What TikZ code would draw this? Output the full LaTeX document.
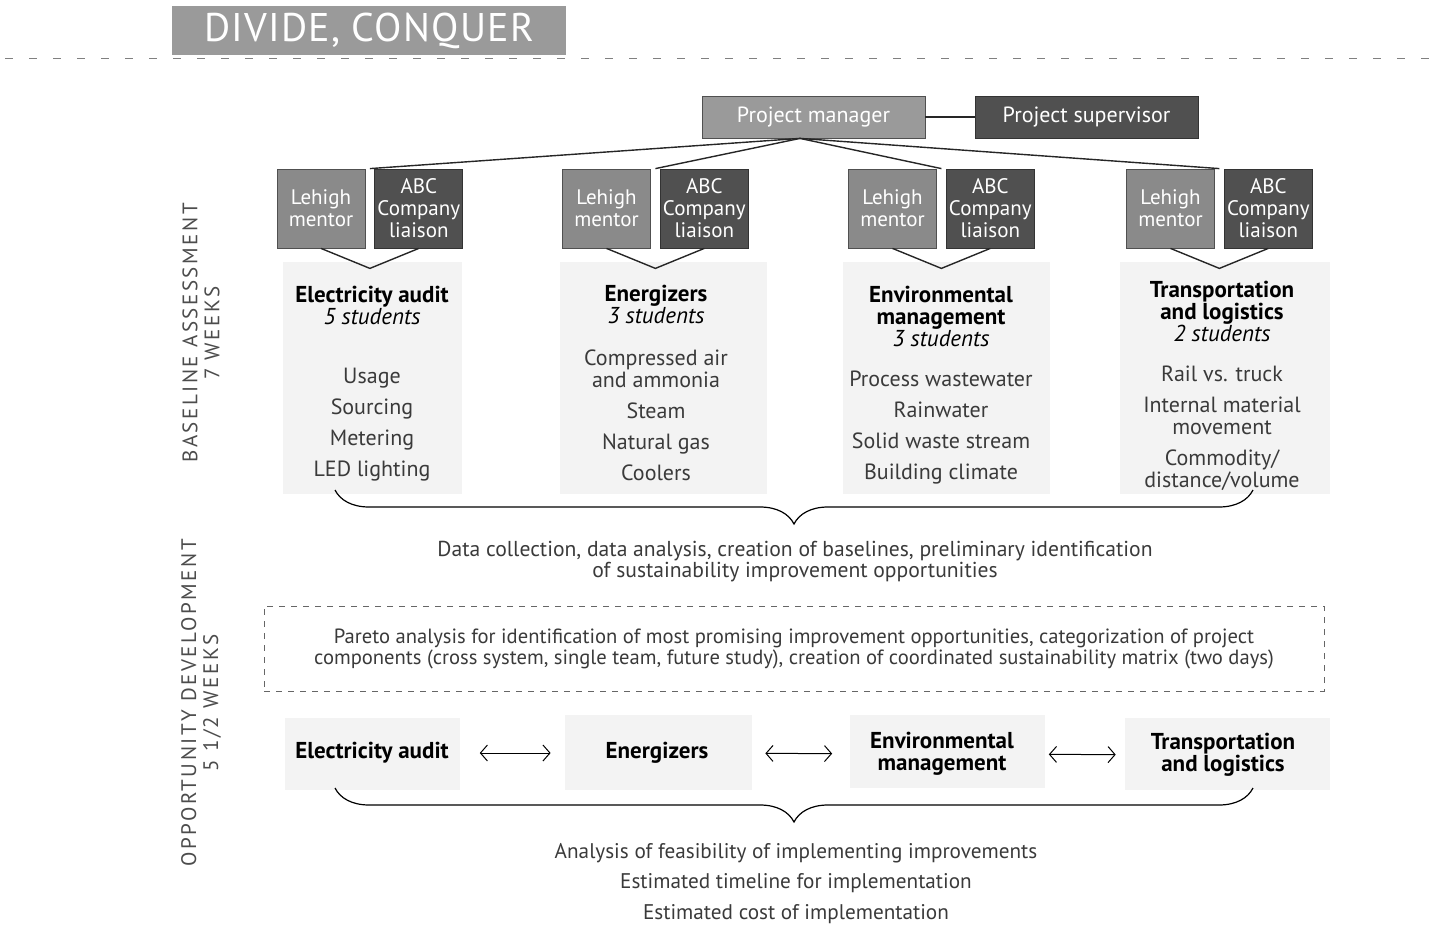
\documentclass[tikz,border=0pt]{standalone}
\usepackage{fontspec}
\setmainfont{PT Sans}
\usetikzlibrary{arrows.meta,positioning,calc,decorations.pathreplacing}
\tikzset{>=latex}
\definecolor{pmgrey}{HTML}{9A9A9A}
\definecolor{midgrey}{HTML}{8A8A8A}
\definecolor{darkgrey}{HTML}{505050}
\definecolor{areagrey}{HTML}{F3F3F3}
\definecolor{textgrey}{HTML}{3A3A3A}
\tikzset{
  lehighbox/.style={fill=midgrey, draw=darkgrey, text=white, minimum width=44pt,
    minimum height=39.5pt, inner sep=1pt, align=center,
    font=\fontsize{10.5}{11}\selectfont},
  abcbox/.style={lehighbox, fill=darkgrey, draw=black!80},
  topbox/.style={fill=pmgrey, draw=darkgrey, text=white, minimum width=111.5pt,
    minimum height=21pt, font=\fontsize{11}{11}\selectfont},
  teamhead/.style={align=center, font=\bfseries\fontsize{11.5}{11}\selectfont},
  teamitems/.style={align=center, text=textgrey, font=\fontsize{11}{11}\selectfont},
  phase/.style={rotate=90, align=center, text=black!70,
    font=\fontsize{10.5}{11}\selectfont\addfontfeature{LetterSpace=12}},
  remark/.style={align=center, text=textgrey, font=\fontsize{10.8}{10.5}\selectfont},
  link/.style={line width=0.7pt, draw=black!85},
  curly/.style={decorate, decoration={brace, mirror, amplitude=17pt}, line width=0.6pt},
  swap/.style={{Straight Barb[length=3.5pt,width=8pt]}-{Straight Barb[length=3.5pt,width=8pt]}, line width=0.5pt}
}
\begin{document}
\begin{tikzpicture}[x=0.5pt,y=-0.5pt]
  \useasboundingbox (0,0) rectangle (1437,926);

  % title bar
  \draw [gray, line width=0.5pt, dash pattern=on 4pt off 8pt] (5,58) -- (1437,58);
  \node [fill=pmgrey, minimum width=197pt, minimum height=24.5pt, text=white,
    font=\fontsize{20}{20}\selectfont\addfontfeature{LetterSpace=3}] (title) at (369,30.5) {DIVIDE, CONQUER};

  % phases
  \node [phase] (base) at (201,333) {BASELINE ASSESSMENT\\7 WEEKS};
  \node [phase] (opp) at (201,703) {OPPORTUNITY DEVELOPMENT\\5 1/2 WEEKS};

  % managers
  \node [topbox] (pm) at (813.5,117) {Project manager};
  \node [topbox, fill=darkgrey, draw=black!80] (ps) at (1086.5,117) {Project supervisor};
  \draw [link] (pm) -- (ps);

  % team areas
  \fill [areagrey] (283,262) rectangle (462,494);
  \fill [areagrey] (560,262) rectangle (767,494);
  \fill [areagrey] (843,262) rectangle (1050,494);
  \fill [areagrey] (1120,262) rectangle (1330,494);

  \fill [areagrey] (285,718) rectangle (460,790);
  \fill [areagrey] (565,715) rectangle (752,790);
  \fill [areagrey] (850,715) rectangle (1045,788);
  \fill [areagrey] (1125,718) rectangle (1330,790);

  % mentor and liaison pairs
  \foreach \i/\x in {1/321,2/606.5,3/892.5,4/1170.5} {
    \node [lehighbox] (l\i) at (\x,208.5) {Lehigh\\mentor};
    \node [abcbox, right=4.5pt of l\i] (a\i) {ABC\\Company\\liaison};
    \coordinate (g\i) at ($(l\i.north east)!0.5!(a\i.north west)$);
    \coordinate (v\i) at ($(l\i.south east)!0.5!(a\i.south west)+(0,20)$);
    \draw [link] ([xshift=-6.75pt]pm.south) -- (g\i);
    \draw [link] (l\i.south) -- (v\i) -- (a\i.south);
  }

  % baseline assessment teams
  \node [teamhead] (t1) at (372,305) {Electricity audit\\{\mdseries\itshape 5 students}};
  \node [teamhead] (t2) at (656,304) {Energizers\\{\mdseries\itshape 3 students}};
  \node [teamhead] (t3) at (941,316.5) {Environmental\\management\\{\mdseries\itshape 3 students}};
  \node [teamhead] (t4) at (1222,311) {Transportation\\and logistics\\{\mdseries\itshape 2 students}};

  \node [teamitems] (i1) at (372,424.5) {Usage\\[4.5pt]Sourcing\\[4.5pt]Metering\\[4.5pt]LED lighting};
  \node [teamitems] (i2) at (656,415.5) {Compressed air\\and ammonia\\[4.5pt]Steam\\[4.5pt]Natural gas\\[4.5pt]Coolers};
  \node [teamitems] (i3) at (941,427.5) {Process wastewater\\[4.5pt]Rainwater\\[4.5pt]Solid waste stream\\[4.5pt]Building climate};
  \node [teamitems] (i4) at (1222,428.5) {Rail vs. truck\\[4.5pt]Internal material\\movement\\[4.5pt]Commodity/\\distance/volume};

  \draw [curly] (335,490) -- (1253,490);
  \node [remark] (collect) at (795,561.5) {Data collection, data analysis, creation of baselines, preliminary identification\\of sustainability improvement opportunities};

  % opportunity development
  \node [remark, font=\fontsize{10.3}{10.5}\selectfont, draw=black!60, dash pattern=on 3pt off 3pt,
    line width=0.5pt, minimum width=530pt, minimum height=42.5pt] (pareto) at (794,648.5)
    {Pareto analysis for identification of most promising improvement opportunities, categorization of project\\components (cross system, single team, future study), creation of coordinated sustainability matrix (two days)};

  \node [teamhead] (b1) at (372,753) {Electricity audit};
  \node [teamhead] (b2) at (657,753) {Energizers};
  \node [teamhead] (b3) at (942,754) {Environmental\\management};
  \node [teamhead] (b4) at (1223,755) {Transportation\\and logistics};
  \draw [swap, shorten <=12pt, shorten >=24pt] (b1) -- (b2);
  \draw [swap, shorten <=25pt, shorten >=15.5pt] (b2) -- (b3);
  \draw [swap, shorten <=14pt, shorten >=14pt] (b3) -- (b4);

  \draw [curly] (335,788) -- (1253,788);
  \node [remark, font=\fontsize{10.6}{15.25}\selectfont] (result) at (796,883.5)
    {Analysis of feasibility of implementing improvements\\Estimated timeline for implementation\\Estimated cost of implementation};
\end{tikzpicture}
\end{document}
